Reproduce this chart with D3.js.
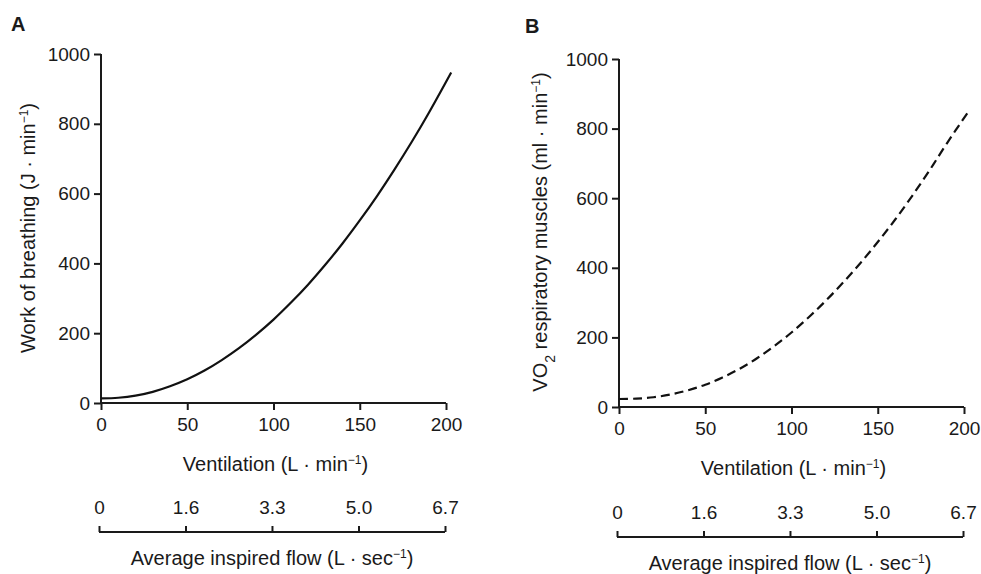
<!DOCTYPE html>
<html>
<head>
<meta charset="utf-8">
<script src="https://cdn.jsdelivr.net/npm/d3@7"></script>
<style>
  body { margin: 0; background: #fff; }
  text { font-family: "Liberation Sans", Arial, sans-serif; fill: #1a1a1a; }
</style>
</head>
<body>
<script>
const width = 981, height = 574;

// ventilation (L/min) and values
const ventA = [0, 10, 20, 30, 40, 50, 60, 70, 80, 90, 100, 110, 120, 130, 140, 150, 160, 170, 180, 190, 203];
const workA = [13, 15, 21, 32, 48, 68, 93, 123, 157, 196, 239, 287, 339, 396, 457, 523, 593, 668, 747, 831, 947];
const ventB = [0, 10, 20, 30, 40, 50, 60, 70, 80, 90, 100, 110, 120, 130, 140, 150, 160, 170, 180, 190, 202];
const vo2B = [23, 24, 28, 36, 48, 64, 85, 110, 140, 175, 214, 258, 306, 358, 414, 474, 538, 607, 680, 757, 845];

const xTicks = [0, 50, 100, 150, 200];
const yTicks = [0, 200, 400, 600, 800, 1000];
const flowTicks = [0, 1.667, 3.333, 5.0, 6.667];
const flowLabels = ["0", "1.6", "3.3", "5.0", "6.7"];

const svg = d3.select("body").append("svg")
  .attr("width", width)
  .attr("height", height);

function sup(t, s) {
  t.append("tspan").attr("baseline-shift", "super").attr("font-size", 12).text(s);
}

function panel(cfg) {
  const x = d3.scaleLinear().domain([0, 200]).range([cfg.x0, cfg.x1]);
  const y = d3.scaleLinear().domain([0, 1000]).range([cfg.y0, cfg.y1]);
  const flow = d3.scaleLinear().domain([0, 6.667]).range([cfg.f0, cfg.f1]);

  const g = svg.append("g");

  // panel letter
  g.append("text")
    .attr("x", cfg.letterX).attr("y", cfg.letterY)
    .attr("font-size", 20).attr("font-weight", "bold")
    .text(cfg.letter);

  const ya = g.append("g")
    .attr("transform", `translate(${cfg.x0},0)`)
    .call(d3.axisLeft(y).tickValues(yTicks).tickSize(7).tickPadding(4).tickFormat(d3.format("d")));
  const xa = g.append("g")
    .attr("transform", `translate(0,${cfg.y0})`)
    .call(d3.axisBottom(x).tickValues(xTicks).tickSize(7).tickPadding(8).tickFormat(d3.format("d")));
  const fa = g.append("g")
    .attr("transform", `translate(0,${cfg.fy})`)
    .call(d3.axisTop(flow).tickValues(flowTicks).tickSize(6).tickPadding(12)
      .tickFormat((d, i) => flowLabels[i]));

  [ya, xa, fa].forEach(a => {
    a.select(".domain").attr("stroke", "#1a1a1a").attr("stroke-width", 2);
    a.selectAll(".tick line").attr("stroke", "#1a1a1a").attr("stroke-width", 2);
    a.selectAll("text").attr("font-size", 19).attr("fill", "#1a1a1a")
      .attr("font-family", "Liberation Sans, Arial, sans-serif");
  });
  ya.select(".domain").attr("d", `M0,${cfg.y0}V${cfg.y1}`);
  xa.select(".domain").attr("d", `M${cfg.x0},0H${cfg.x1}`);
  fa.select(".domain").attr("d", `M${cfg.f0},0H${cfg.f1}`);

  const line = d3.line().curve(d3.curveCatmullRom)
    .x(d => x(d[0])).y(d => y(d[1]));
  g.append("path")
    .datum(cfg.vent.map((v, i) => [v, cfg.vals[i]]))
    .attr("fill", "none")
    .attr("stroke", "#111")
    .attr("stroke-width", 2.2)
    .attr("stroke-dasharray", cfg.dash)
    .attr("d", line);

  const xl = g.append("text")
    .attr("x", (cfg.x0 + cfg.x1) / 2 + 2).attr("y", cfg.y0 + 68)
    .attr("text-anchor", "middle").attr("font-size", 20);
  xl.append("tspan").text("Ventilation (L \u00b7 min");
  sup(xl, "\u22121");
  xl.append("tspan").text(")");

  const fl = g.append("text")
    .attr("x", (cfg.f0 + cfg.f1) / 2 + 0).attr("y", cfg.fy + 33)
    .attr("text-anchor", "middle").attr("font-size", 20);
  fl.append("tspan").text("Average inspired flow (L \u00b7 sec");
  sup(fl, "\u22121");
  fl.append("tspan").text(")");

  const yl = g.append("text")
    .attr("transform", `translate(${cfg.ylX},${cfg.ylY}) rotate(-90)`)
    .attr("text-anchor", "middle").attr("font-size", 20);
  cfg.yLabel(yl);
}

panel({
  letter: "A", letterX: 11, letterY: 31,
  x0: 101, x1: 446, y0: 403, y1: 54,
  f0: 99, f1: 445, fy: 532,
  vent: ventA, vals: workA, dash: null,
  ylX: 35, ylY: 228,
  yLabel: t => {
    t.append("tspan").text("Work of breathing (J \u00b7 min");
    sup(t, "\u22121");
    t.append("tspan").text(")");
  }
});

panel({
  letter: "B", letterX: 525, letterY: 33,
  x0: 619, x1: 964, y0: 407, y1: 59,
  f0: 617, f1: 963, fy: 537,
  vent: ventB, vals: vo2B, dash: "9,5",
  ylX: 547, ylY: 232,
  yLabel: t => {
    t.append("tspan").text("VO");
    t.append("tspan").attr("baseline-shift", "sub").attr("font-size", 14).text("2");
    t.append("tspan").text(" respiratory muscles (ml \u00b7 min");
    sup(t, "\u22121");
    t.append("tspan").text(")");
  }
});
</script>
</body>
</html>
